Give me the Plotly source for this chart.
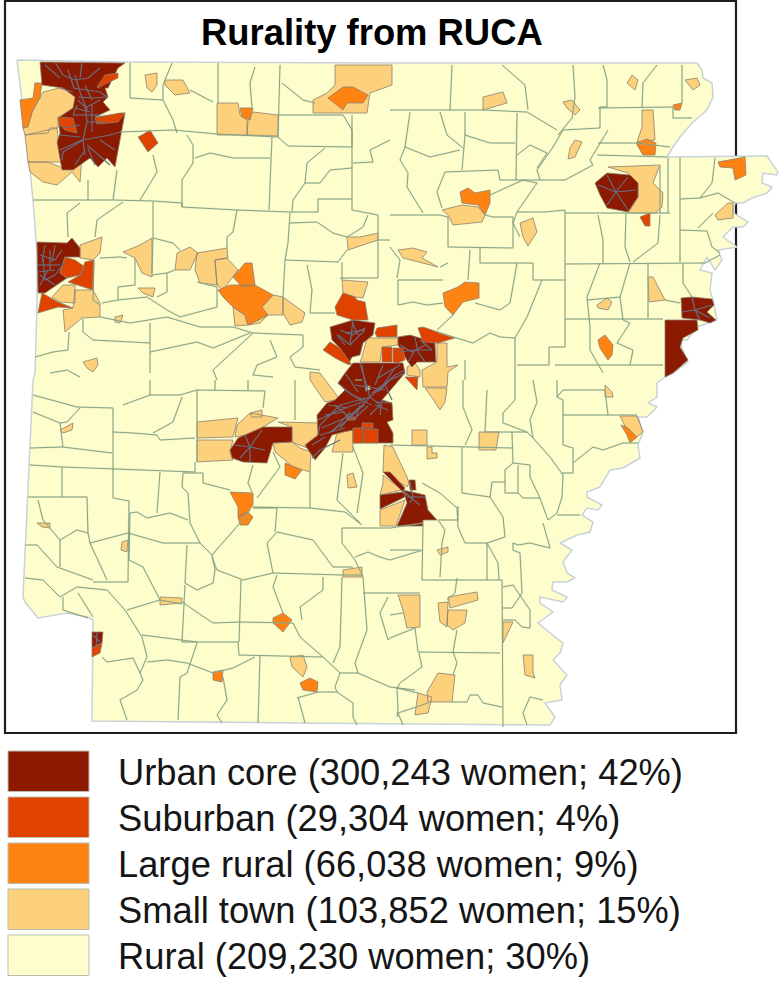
import plotly.graph_objects as go

TITLE = "Rurality from RUCA"
CLASS_NAMES = ["Urban core", "Suburban", "Large rural", "Small town", "Rural"]
CLASS_WOMEN = ["300,243", "29,304", "66,038", "103,852", "209,230"]
CLASS_SHARE = ["42%", "4%", "9%", "15%", "30%"]

STATE = [(17,60),(120,62),(390,63),(697,63),(702,70),(703,78),(712,83),(713,97),(707,110),(692,123),(680,137),(673,147),(667,157),
(767,156),(778,172),(777,175),(763,173),(762,183),(772,187),(767,193),(752,198),(743,203),(735,203),(733,213),(748,222),(743,227),(733,227),(723,237),(737,247),(718,250),(722,260),(715,270),(707,257),(700,270),(712,273),(710,290),(713,300),(717,320),(697,327),(687,340),(680,340),(682,348),(688,362),(673,373),(665,377),
(657,383),(657,397),(648,403),(657,407),(647,417),(638,417),(643,432),(638,445),(640,458),(623,468),(610,470),(600,487),(587,492),(587,497),(602,505),(598,510),(587,508),(582,515),(593,522),(590,532),(577,535),(560,543),(572,550),(563,562),(567,573),(575,578),(567,582),(553,582),(552,590),(567,597),(563,602),(540,597),(540,603),(553,612),(538,623),(555,637),(563,643),(560,653),(553,660),(567,675),(560,685),(562,700),(545,703),(555,717),(550,725),
(300,723),(92,721),(93,620),(88,617),(67,613),(38,618),(25,602),(23,597),(33,380),(35,373),(37,307),(37,253),(33,200),(27,140)]

URBAN_CORE = [
[(40,62),(125,63),(118,68),(108,88),(105,88),(108,97),(103,102),(110,110),(95,117),(125,113),(115,167),(107,158),(98,167),(90,158),(73,170),(62,170),(57,142),(60,133),(58,118),(73,108),(75,97),(63,88),(42,85)],
[(37,242),(67,243),(72,238),(80,248),(80,257),(65,257),(60,273),(67,278),(45,293),(38,293)],
[(595,183),(607,173),(630,175),(638,183),(638,197),(628,212),(607,208),(600,195)],
[(681,298),(692,297),(712,299),(714,305),(707,312),(716,320),(710,323),(700,320),(682,318)],
[(665,320),(697,320),(698,330),(683,338),(680,347),(688,360),(673,373),(665,377)],
[(345,373),(353,363),(377,363),(403,363),(405,373),(393,387),(382,400),(392,403),(393,420),(387,422),(393,433),(393,443),(353,443),(353,430),(343,432),(332,435),(325,448),(315,460),(305,445),(318,435),(317,415),(327,403),(335,400),(345,390),(338,383)],
[(330,327),(353,320),(375,323),(373,335),(363,343),(360,355),(352,357),(348,365),(340,348),(332,340)],
[(398,337),(410,335),(420,338),(435,343),(436,362),(417,362),(412,367),(408,362),(398,345)],
[(230,450),(238,438),(263,427),(292,427),(292,442),(273,443),(267,463),(243,462),(232,458)],
[(383,472),(390,472),(405,488),(403,492)],
[(409,480),(415,480),(416,490),(410,490)],
[(380,495),(402,492),(407,495),(403,498),(380,509)],
[(403,490),(425,495),(428,510),(437,520),(423,520),(423,526),(397,526),(407,503)],
[(92,632),(103,632),(102,643),(92,648)],
]
SUBURBAN = [
[(97,87),(105,75),(118,73),(118,78),(107,83),(98,88)],
[(95,118),(120,113),(125,113),(118,122),(97,124)],
[(58,117),(73,118),(77,133),(65,130),(60,125)],
[(142,135),(150,130),(158,143),(148,152),(138,137)],
[(640,217),(650,213),(650,226),(645,226)],
[(65,257),(75,260),(85,267),(80,275),(67,278),(60,273)],
[(85,262),(94,260),(93,290),(68,282),(80,275)],
[(38,313),(42,293),(58,302),(73,308),(58,307)],
[(335,307),(343,293),(355,297),(357,300),(365,302),(368,320),(353,320),(337,315)],
[(323,350),(330,342),(340,348),(352,365),(345,363),(335,358)],
[(375,333),(377,328),(397,325),(397,337),(377,337)],
[(418,328),(423,327),(455,338),(438,343),(423,342)],
[(382,347),(392,347),(392,362),(382,362)],
[(393,348),(403,348),(405,360),(398,363),(393,362)],
[(405,377),(418,377),(417,390),(412,385)],
[(347,417),(355,417),(355,420),(347,420)],
[(362,423),(373,423),(373,428),(362,428)],
[(353,428),(363,428),(363,443),(353,443)],
[(364,429),(378,429),(378,443),(364,443)],
[(92,648),(102,643),(100,653),(92,657)],
]
LARGE_RURAL = [
[(20,100),(33,98),(35,83),(42,83),(40,97),(32,112),(28,127),(23,128)],
[(240,108),(253,108),(250,120),(242,117)],
[(328,98),(343,87),(353,87),(368,95),(363,103),(347,103),(343,110),(333,102)],
[(673,105),(682,103),(680,110),(675,110)],
[(636,143),(647,139),(656,143),(655,155),(643,155)],
[(718,162),(745,157),(746,175),(735,180),(733,168),(720,167)],
[(460,192),(468,188),(475,193),(490,190),(490,203),(485,215),(478,205),(462,203)],
[(443,293),(458,287),(465,282),(479,283),(479,298),(463,302),(453,315),(445,307)],
[(598,340),(605,335),(613,345),(612,355),(608,360),(600,348)],
[(233,277),(245,263),(252,263),(255,285),(242,287)],
[(218,290),(230,285),(247,285),(255,285),(273,295),(262,307),(268,315),(248,325),(245,315),(233,307),(223,297)],
[(285,463),(302,470),(295,479),(285,475)],
[(230,492),(253,493),(253,505),(248,512),(238,517),(238,507)],
[(238,517),(248,512),(253,517),(248,525),(240,525)],
[(273,618),(283,613),(292,620),(283,632),(273,623)],
[(213,672),(223,670),(222,682),(213,680)],
[(300,683),(310,678),(318,682),(317,692),(303,690)],
[(621,425),(628,428),(637,437),(630,443),(627,435)],
]
SMALL_TOWN = [
[(40,98),(43,92),(63,87),(76,97),(74,108),(58,118),(58,128),(50,128),(48,133),(25,135),(23,128),(30,120),(32,112)],
[(25,135),(57,128),(60,157),(63,162),(48,162),(28,162)],
[(28,162),(48,162),(63,168),(82,157),(80,182),(72,172),(57,185),(43,182),(30,172)],
[(145,75),(157,73),(157,85),(152,92),(147,88)],
[(165,80),(183,80),(190,93),(175,95),(165,85)],
[(217,103),(238,103),(240,115),(247,120),(247,135),(217,135)],
[(247,135),(248,120),(253,112),(278,115),(278,136)],
[(335,65),(392,65),(392,85),(370,93),(367,113),(343,113),(313,113),(313,100),(327,93),(335,85)],
[(483,97),(503,92),(507,103),(483,110)],
[(563,102),(572,100),(580,110),(575,115),(567,108)],
[(632,75),(638,80),(635,90),(627,83)],
[(685,80),(697,78),(700,85),(693,90)],
[(642,110),(653,110),(655,140),(637,142),(642,127)],
[(575,140),(582,142),(575,157),(568,159),(570,148)],
[(608,167),(660,165),(653,183),(663,193),(662,207),(655,213),(628,213),(638,197),(638,183),(628,173)],
[(715,215),(728,203),(733,203),(733,218),(718,220)],
[(648,277),(653,277),(665,300),(649,302)],
[(442,210),(462,205),(478,207),(485,215),(482,222),(453,225),(448,215)],
[(520,223),(533,218),(537,232),(528,246),(523,237)],
[(398,250),(413,248),(427,252),(422,258),(438,267),(420,262),(403,258)],
[(597,305),(607,298),(612,302),(608,310),(598,308)],
[(80,245),(102,237),(100,253),(93,260),(80,258)],
[(52,297),(63,285),(75,285),(75,303),(60,302)],
[(75,290),(93,290),(100,303),(100,317),(82,318),(65,332),(63,310),(73,308)],
[(123,252),(140,245),(152,238),(152,277),(142,273),(135,258)],
[(138,288),(155,288),(153,297),(143,293)],
[(115,317),(123,315),(120,323),(115,322)],
[(83,362),(97,358),(98,365),(93,372),(87,368)],
[(177,253),(190,247),(198,253),(190,270),(175,270)],
[(197,253),(227,248),(228,258),(215,260),(217,285),(200,283),(195,270)],
[(215,260),(227,258),(238,270),(223,290),(217,285)],
[(233,307),(245,315),(248,325),(235,326)],
[(248,325),(268,315),(260,323)],
[(273,295),(283,297),(283,315),(263,315),(262,307)],
[(283,297),(305,313),(302,322),(290,325),(283,313)],
[(347,237),(360,237),(378,233),(378,240),(348,250)],
[(342,280),(368,282),(363,298),(355,297),(343,293)],
[(362,357),(367,338),(398,338),(398,345),(382,347),(380,362),(360,362)],
[(437,343),(447,343),(447,367),(458,365),(448,372),(447,387),(423,387),(422,370),(437,362)],
[(425,388),(447,388),(445,402),(440,410),(435,402)],
[(407,367),(415,363),(420,370),(420,377),(407,375)],
[(310,372),(320,373),(338,397),(335,400),(325,402),(310,380)],
[(197,422),(238,418),(233,437),(197,438)],
[(197,440),(233,440),(230,452),(233,460),(197,462)],
[(237,425),(250,413),(278,418),(263,427),(247,435),(235,437)],
[(250,413),(262,410),(262,417),(252,417)],
[(278,422),(320,423),(318,437),(307,448),(292,442),(292,427)],
[(273,443),(292,442),(300,448),(311,452),(310,472),(293,467),(275,452)],
[(332,452),(337,433),(353,430),(353,452)],
[(347,475),(353,473),(357,487),(348,488)],
[(37,523),(50,523),(50,528),(42,527)],
[(60,430),(73,423),(72,430),(63,433)],
[(122,542),(128,540),(127,552),(121,550)],
[(343,570),(362,567),(362,577),(343,577)],
[(160,597),(182,598),(182,603),(160,605)],
[(290,657),(303,655),(307,667),(303,677),(292,667)],
[(412,430),(427,430),(427,445),(412,445)],
[(427,447),(432,447),(432,453),(437,453),(437,458),(427,459)],
[(479,432),(499,432),(496,450),(479,450)],
[(605,385),(612,392),(613,397),(605,397)],
[(620,416),(637,416),(643,432),(637,437),(627,430)],
[(437,550),(448,547),(448,552),(440,555)],
[(398,595),(420,595),(420,627),(407,628),(403,610)],
[(448,597),(477,592),(478,600),(450,608)],
[(438,603),(448,602),(447,627),(440,622)],
[(448,610),(467,610),(465,623),(453,630),(447,625)],
[(503,622),(513,622),(503,643)],
[(523,655),(533,655),(533,673),(535,678),(525,675)],
[(438,673),(455,675),(452,702),(428,702),(427,692)],
[(418,693),(432,697),(428,713),(415,715)],
[(384,445),(393,447),(398,458),(407,477),(409,483),(407,487),(383,472)],
[(383,475),(402,490),(380,495),(383,483)],
[(380,510),(405,500),(396,526),(380,526)],
]
RURAL_ISLANDS = [[(366,386),(370,386),(370,390),(366,390)]]
COUNTY_LINES = [
[(130,63),(130,98),(163,100)],[(172,63),(163,85),(163,100),(173,120),(177,133)],[(218,63),(218,103)],[(190,90),(213,102)],[(255,67),(250,83),(252,107)],[(280,65),(278,137)],
[(120,132),(173,130),(217,134),(278,137),(288,146),(352,147)],[(282,83),(303,100),(315,103)],[(278,115),(343,115),(352,130),(352,147)],[(117,170),(113,200)],[(153,155),(157,172),(140,200)],
[(187,135),(193,145),(193,163),(182,180),(182,207)],[(195,158),(210,153),(233,158),(270,158)],[(272,137),(269,210)],
[(33,200),(87,200),(113,200),(153,201),(182,203),(182,207),(237,210),(290,212),(318,212),(318,199),(352,199)],[(88,180),(88,200)],[(123,202),(97,220),(95,237)],[(80,203),(67,213),(68,237)],[(153,202),(153,237),(152,273)],[(237,210),(233,232),(227,237),(227,248)],[(290,213),(288,243),(285,260),(283,297)],
[(290,223),(317,222),(333,233),(347,237)],[(368,215),(363,227),(347,237)],[(285,260),(338,262),(347,250)],[(342,262),(342,280)],[(307,265),(312,290),(310,313),(335,313)],[(100,258),(120,257),(127,258)],[(94,260),(93,300),(100,305)],
[(135,258),(135,285),(118,287),(118,300),(102,303)],[(153,238),(173,243),(180,250)],[(152,275),(167,273),(167,292),(157,297)],[(167,273),(175,270)],[(197,282),(217,287),(217,307),(180,317),(167,310),(147,297),(118,300)],
[(100,317),(130,323),(167,317),(200,327),(233,327),(253,333),(303,335)],[(83,319),(83,332),(93,340),(150,343)],[(150,323),(150,373)],[(69,332),(68,350),(53,352),(35,357)],[(150,352),(197,342),(213,348),(250,333)],[(253,333),(213,370),(217,380)],
[(270,340),(277,357),(257,365),(253,375),(273,377)],[(303,335),(303,347),(290,357),(295,367),(320,370)],[(50,373),(67,370),(80,377)],[(325,148),(307,163),(305,183),(293,200),(292,212)],[(352,168),(330,170),(320,183),(305,183)],[(353,163),(373,162),(370,150),(390,140)],[(352,115),(352,210),(378,215)],[(378,215),(378,278),(340,278)],[(378,240),(390,240)],
[(390,110),(483,110),(527,112),(557,130)],[(452,65),(450,110)],[(502,65),(525,85),(528,110)],[(573,65),(575,97),(572,118),(558,135)],[(603,65),(607,80),(607,107),(600,107),(600,128)],[(600,128),(563,130),(553,147),(537,170),(540,180)],[(608,130),(590,160),(593,165),(565,180)],
[(565,180),(500,180),(498,170),(445,172),(437,192),(442,208)],[(517,113),(516,180)],[(465,112),(465,135),(462,170)],[(465,135),(490,143),(515,143)],[(517,155),(530,145),(547,153),(537,168)],[(410,112),(405,147),(400,160),(408,173),(407,187),(423,213)],[(440,112),(447,135),(463,148)],[(405,147),(430,157),(460,150)],
[(390,215),(440,215),(448,217),(448,247),(513,248),(513,217),(493,217),(485,215)],[(490,195),(523,180),(537,183),(517,212),(513,223),(520,237)],[(517,212),(545,212),(565,210),(565,317),(565,347)],[(565,213),(597,213),(670,213)],[(565,264),(705,263),(720,255)],[(598,215),(603,240),(603,263)],[(626,213),(625,247),(630,262)],[(660,215),(658,243),(633,262)],
[(680,158),(680,262)],[(715,158),(712,183),(700,198),(680,199)],[(680,230),(707,231),(712,247),(720,253)],[(700,198),(718,193),(735,203)],[(713,213),(698,228)],[(598,108),(673,107),(673,118),(692,118)],[(682,65),(682,103)],[(657,65),(643,83),(642,108)],[(598,143),(637,143),(670,147)],[(597,155),(667,157)],[(660,165),(660,213)],[(668,158),(668,213)],
[(630,263),(620,297),(623,320)],[(600,263),(587,297),(590,327),(590,350),(603,373)],[(648,264),(648,318)],[(665,300),(680,303)],[(565,319),(663,319)],[(587,300),(620,297)],[(683,264),(683,283),(692,297)],[(623,320),(630,323),(617,343),(633,350),(630,365)],[(555,365),(663,365)],[(549,347),(565,347)],[(549,347),(549,365),(517,365)],[(515,338),(515,380)],[(533,263),(533,280),(565,280)],[(480,247),(480,263),(517,263),(533,263)],[(470,250),(468,280)],[(398,280),(443,280)],[(398,280),(398,305)],[(398,305),(413,302),(427,305),(443,303)],[(390,247),(400,260),(397,278)],[(440,267),(448,263)],[(475,303),(500,310),(510,303),(517,263)],[(453,315),(437,330)],[(437,332),(463,340),(473,343),(490,333),(500,337),(515,338)],[(542,280),(527,317),(515,338)],[(465,360),(465,380)],
[(557,380),(557,397),(563,400),(563,415),(563,445),(573,448),(573,473),(562,473)],[(557,397),(563,390),(605,390),(608,415)],[(563,415),(637,415)],[(573,463),(593,447),(603,450),(623,443),(638,443)],[(533,380),(537,402),(530,420),(533,438),(550,457),(563,475),(562,497),(557,513),(548,520)],[(515,380),(515,400),(503,413),(503,423),(527,432),(533,438)],[(487,390),(485,432),(527,432)],[(463,380),(463,407),(472,430),(465,445)],[(390,445),(467,447),(512,448)],[(512,432),(513,463),(505,470),(505,493),(518,493),(518,465)],[(513,463),(530,465),(530,477),(540,498),(548,520)],[(518,493),(523,498),(540,498)],[(462,447),(462,493),(490,497),(492,482),(505,482)],[(490,497),(503,517),(505,537)],[(543,523),(550,548),(530,543),(518,545),(513,543),(513,550),(520,553),(522,593)],[(557,515),(580,515)],[(422,483),(440,493),(457,508),(458,527),(465,543),(487,543),(505,537)],[(458,506),(458,520),(438,520),(445,530),(442,543),(440,577)],[(423,523),(422,580),(502,580),(503,727)],[(487,543),(487,580)],[(487,543),(498,563),(499,580)],[(503,587),(513,585),(530,610),(530,628),(522,627),(515,620),(503,620)],[(503,608),(512,608),(522,593)],[(390,550),(420,550)],[(457,578),(455,593),(447,600)],[(420,593),(390,593)],[(390,615),(403,613)],[(415,628),(418,652),(500,653)],[(457,630),(453,652),(457,663),(453,675)],[(419,653),(422,667),(400,683),(397,688),(418,693)],[(452,702),(467,702),(470,695),(478,695),(483,703),(502,707)],[(428,703),(398,713),(403,725)],[(397,688),(398,710),(397,717)],[(530,697),(523,713),(527,725)],[(530,697),(543,700)],[(415,628),(390,638)],
[(33,395),(77,407),(113,408)],[(33,412),(60,423),(63,447)],[(80,408),(67,422),(60,423)],[(30,448),(63,447),(112,453)],[(30,465),(63,467),(195,472)],[(62,467),(62,497)],[(113,408),(113,498),(129,501),(128,582),(93,582)],[(28,497),(87,497),(88,533),(90,543),(107,580)],[(38,500),(43,520),(60,540),(77,530),(88,533)],[(60,540),(60,567)],[(25,545),(37,545),(57,567),(93,580)],[(25,578),(43,580),(60,597),(77,587),(107,590),(125,610)],[(63,597),(63,610),(88,618)],[(78,593),(93,617)],
[(90,543),(128,533),(163,543),(200,543),(212,555),(240,523),(250,510)],[(200,543),(190,523),(188,493),(182,487),(183,473),(203,473),(203,483),(230,490)],[(130,513),(137,512),(147,518),(170,513),(188,520)],[(130,513),(129,560),(143,567),(157,595),(160,600)],[(160,472),(157,513)],[(187,545),(185,583),(197,590),(213,583),(215,570),(212,555)],[(185,585),(182,642),(238,642),(239,655),(323,657)],[(241,580),(239,642)],[(212,557),(217,570),(243,580),(273,573),(342,575),(363,575)],[(273,573),(267,543),(277,532),(313,540),(333,567),(353,567)],[(253,508),(277,508),(275,532)],[(253,507),(310,508),(345,512),(362,525)],[(310,472),(310,508)],[(343,453),(337,500),(360,523)],[(353,447),(363,473),(357,513)],[(197,390),(197,462)],[(197,390),(265,391),(263,408)],[(195,462),(195,472)],[(253,465),(248,483),(252,492)],[(273,452),(280,467),(257,498)],[(113,432),(133,433),(157,435),(160,440),(195,438)],[(123,405),(150,395),(180,395),(197,390)],[(182,397),(173,422),(153,433)],[(150,380),(150,395)],[(215,380),(215,390)],[(248,380),(248,390)],[(295,380),(295,420)],
[(182,602),(213,623),(240,622),(273,623),(293,623),(300,637),(323,657),(340,673),(358,673),(390,687)],[(127,610),(160,600),(182,604)],[(125,610),(142,637),(147,657),(140,673),(143,680),(137,690),(120,700),(127,720)],[(142,635),(197,642)],[(197,643),(187,673),(180,677),(178,720)],[(102,657),(107,662),(133,658),(140,673)],[(147,662),(167,660),(187,663),(213,673),(233,668),(255,657)],[(260,656),(258,723)],[(223,677),(227,700),(217,715),(222,723)],[(298,697),(305,723)],[(297,698),(318,692),(337,692),(353,703),(353,717),(357,725)],[(340,673),(335,687),(337,692)],[(342,577),(340,647),(333,663)],[(363,577),(367,630),(355,663),(358,673)],[(277,575),(273,587),(283,613)],[(323,577),(323,590),(300,607),(302,620)],[(363,593),(390,593)],[(388,597),(380,613),(388,640)],[(342,528),(390,528)],[(342,528),(342,543),(355,560),(363,577)],[(355,557),(368,552),(380,557),(390,560)],
[(390,687),(415,690)],[(390,638),(388,640)],[(390,560),(423,550)],[(390,528),(423,523)],[(355,380),(362,380)],
]
TRACT_LINES = [
[(75,75),(80,92),(85,105),(87,122),(83,140),(85,155)],[(55,62),(63,75),(75,80),(88,78),(100,68)],[(73,88),(100,92),(107,97),(93,98),(78,97)],[(73,115),(100,115)],[(92,105),(92,132)],[(83,140),(63,152),(62,160)],[(83,140),(110,135),(120,132)],[(87,145),(110,165)],[(60,135),(80,137)],[(77,105),(73,115)],[(68,70),(74,88)],[(85,85),(92,100)],[(82,62),(80,78)],
[(60,88),(73,92)],[(45,65),(60,78)],[(100,100),(85,108)],[(78,100),(88,110)],[(62,128),(80,125)],[(60,150),(82,140)],[(75,165),(85,150)],[(95,165),(88,148)],[(100,140),(115,150)],[(87,122),(105,122)],[(75,108),(90,112)],
[(43,258),(45,280),(55,275),(65,262)],[(38,265),(60,265)],[(40,275),(55,285)],[(50,250),(50,270)],[(45,245),(42,262)],[(40,255),(55,260),(62,250)],[(40,285),(48,270)],[(55,245),(52,262)],[(38,272),(55,270)],
[(616,192),(607,175)],[(616,192),(628,177)],[(616,192),(636,190)],[(616,192),(628,210)],[(616,192),(607,205)],[(616,192),(598,185)],
[(692,297),(695,310),(710,318)],[(682,312),(695,310),(712,305)],[(695,310),(700,320)],
[(403,490),(410,497),(420,505)],[(410,482),(413,497),(410,503)],[(407,497),(425,497)],
[(250,447),(235,445)],[(250,447),(245,435)],[(250,447),(262,430)],[(250,447),(265,450)],[(250,447),(250,462)],[(250,447),(240,458)],
[(370,397),(395,375),(405,370)],[(370,397),(360,363)],[(370,397),(340,405),(320,425),(318,435)],[(370,397),(348,420),(330,432)],[(370,397),(380,405),(370,415)],[(345,390),(360,400),(372,405)],[(355,385),(385,390)],[(378,378),(400,365)],[(375,385),(383,365)],[(340,440),(320,450),(312,458)],[(325,415),(345,412)],[(335,405),(350,418)],[(360,405),(355,420)],[(385,385),(392,400)],
[(338,383),(352,395),(365,400)],[(345,373),(358,392)],[(362,365),(366,392)],[(395,368),(383,385),(372,393)],[(405,373),(390,380),(378,392)],[(318,420),(340,410),(362,402)],[(322,428),(345,418),(365,405)],[(328,405),(348,408)],[(332,432),(350,412)],[(340,428),(358,408)],[(353,420),(368,406)],[(375,405),(388,410)],[(392,403),(376,402)],[(382,400),(380,415)],[(312,445),(325,437)],[(320,435),(345,428)],
[(345,333),(365,330),(350,345),(338,335)],[(398,352),(415,350),(432,350),(420,340)],[(415,350),(408,362)],[(353,320),(350,345)],[(340,330),(352,335),(365,328)],[(337,335),(345,345)],[(352,322),(358,335)],[(400,345),(412,352),(425,345)],[(415,337),(418,352),(425,362)],
[(93,635),(100,642)],[(97,633),(96,648)],
]
SWATCH_TOPS = [751, 797, 843, 889, 935]
COLORS = ["#8B1A00", "#E04300", "#FE8312", "#FDD07C", "#FEFECD"]


def flat(polys):
    xs, ys = [], []
    for poly in polys:
        xs += [p[0] for p in poly] + [None]
        ys += [p[1] for p in poly] + [None]
    return xs, ys


fig = go.Figure()
x, y = flat([STATE + STATE[:1]])
fig.add_trace(go.Scatter(x=x, y=y, mode="lines", fill="toself", fillcolor=COLORS[4], line=dict(color="#C9D2D6", width=1.5), hoverinfo="skip", name="Rural"))
for name, polys, col in [("Small town", SMALL_TOWN, COLORS[3]), ("Large rural", LARGE_RURAL, COLORS[2]), ("Urban core", URBAN_CORE, COLORS[0]), ("Suburban", SUBURBAN, COLORS[1]), ("Rural islands", RURAL_ISLANDS, COLORS[4])]:
    x, y = flat([p + p[:1] for p in polys])
    fig.add_trace(go.Scatter(x=x, y=y, mode="lines", fill="toself", fillcolor=col, line=dict(color="#8A8070", width=0.8), hoverinfo="skip", name=name))
x, y = flat(COUNTY_LINES)
fig.add_trace(go.Scatter(x=x, y=y, mode="lines", line=dict(color="rgba(185,205,165,0.35)", width=2), hoverinfo="skip", name="County halo"))
fig.add_trace(go.Scatter(x=x, y=y, mode="lines", line=dict(color="#7E9A80", width=0.9), hoverinfo="skip", name="Counties"))
x, y = flat(TRACT_LINES)
fig.add_trace(go.Scatter(x=x, y=y, mode="lines", line=dict(color="#6A6E80", width=1.2), hoverinfo="skip", name="Tracts"))

shapes = [dict(type="rect", xref="x", yref="y", x0=5, x1=736, y0=1, y1=733, line=dict(color="#1A1F1F", width=2.2), layer="below")]
annotations = [dict(x=372, y=32, xref="x", yref="y", text="<b>%s</b>" % TITLE, showarrow=False, font=dict(family="Liberation Sans", size=36.4, color="#000"), xanchor="center", yanchor="middle")]
for i, top in enumerate(SWATCH_TOPS):
    shapes.append(dict(type="rect", xref="x", yref="y", x0=8, x1=89, y0=top, y1=top + 40.5, fillcolor=COLORS[i], line=dict(color="#B9BDB0", width=1), layer="above"))
    annotations.append(dict(x=116, y=top + 21, xref="x", yref="y", text="%s (%s women; %s)" % (CLASS_NAMES[i], CLASS_WOMEN[i], CLASS_SHARE[i]), showarrow=False, font=dict(family="Liberation Sans", size=36.3, color="#151515"), xanchor="left", yanchor="middle"))

fig.update_layout(width=780, height=982, margin=dict(l=0, r=0, t=0, b=0), showlegend=False, paper_bgcolor="white", plot_bgcolor="white", shapes=shapes, annotations=annotations,
                  xaxis=dict(range=[0, 780], visible=False, fixedrange=True), yaxis=dict(range=[982, 0], visible=False, fixedrange=True))
fig.write_html("out.html", config=dict(displayModeBar=False), post_script="document.body.style.margin='0';document.documentElement.style.overflow='hidden';")
